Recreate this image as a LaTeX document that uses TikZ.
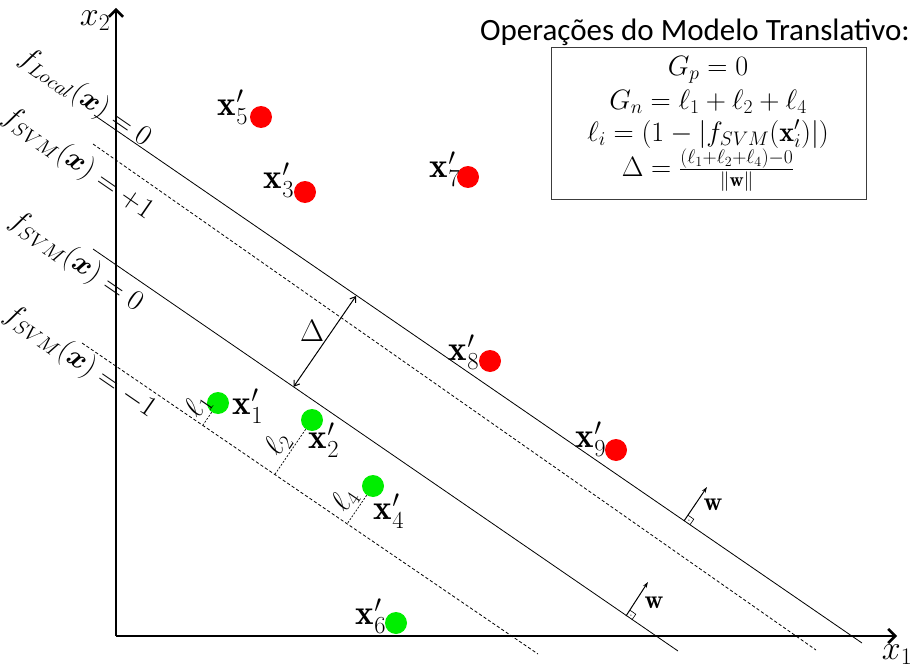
\documentclass[tikz,border=0pt]{standalone}
\usepackage{fontspec}
\usepackage{amsmath,bm}
\usepackage{fix-cm}
\usetikzlibrary{arrows.meta,calc}
\newfontfamily\carlito{Carlito}
\definecolor{ptred}{RGB}{255,0,0}
\definecolor{ptgreen}{RGB}{0,238,0}
\definecolor{boxline}{RGB}{60,60,60}
\begin{document}
\begin{tikzpicture}[x=1pt,y=-1pt,
  axis/.style={line width=2.6pt,-{Straight Barb[length=7pt,width=14pt]}},
  hyp/.style={line width=0.8pt},
  margin/.style={line width=0.8pt,dash pattern=on 3.2pt off 2.2pt},
  lossline/.style={line width=0.7pt,dash pattern=on 2pt off 1.5pt},
  vecarrow/.style={line width=1pt,-{Stealth[length=6pt,width=4pt]}},
  deltaarrow/.style={line width=1pt,{Straight Barb[length=5pt,width=7pt]}-{Straight Barb[length=5pt,width=7pt]}},
  redpt/.style={circle,fill=ptred,inner sep=0pt,minimum size=22pt},
  greenpt/.style={circle,fill=ptgreen,inner sep=0pt,minimum size=22pt},
  ptlabel/.style={inner sep=0pt,font=\fontsize{35}{38}\selectfont},
  linelabel/.style={inner sep=0pt,rotate=-34.6,font=\fontsize{29}{32}\selectfont},
  loss/.style={inner sep=0pt,rotate=55.7,font=\fontsize{30}{34}\selectfont},
  eq/.style={inner sep=0pt,font=\fontsize{28}{32}\selectfont},
]
\useasboundingbox (0,0) rectangle (914,669);

% axes
\coordinate (O) at (116,636);
\coordinate (X1end) at (897,636);
\coordinate (X2end) at (116,8);
\draw[axis] (O) -- (X1end);
\draw[axis] (O) -- (X2end);
\node[inner sep=0pt,font=\fontsize{34}{38}\selectfont] (lx2) at (95,21) {$x_2$};
\node[inner sep=0pt,font=\fontsize{34}{38}\selectfont] (lx1) at (897,655) {$x_1$};

% hyperplanes
\coordinate (LocA) at (94,115);   \coordinate (LocB) at (862,643);
\coordinate (PosA) at (93,144);   \coordinate (PosB) at (816,650);
\coordinate (ZerA) at (93,249);   \coordinate (ZerB) at (678,651);
\coordinate (NegA) at (82,343);   \coordinate (NegB) at (538,654);
\draw[hyp] (LocA) -- (LocB);
\draw[margin] (PosA) -- (PosB);
\draw[hyp] (ZerA) -- (ZerB);
\draw[margin] (NegA) -- (NegB);

% line labels
\node[linelabel] (tLoc) at (85,98) {$f_{Local}(\bm{x}) = 0$};
\node[linelabel] (tPos) at (78,164) {$f_{SVM}(\bm{x}) = +1$};
\node[linelabel] (tZer) at (76,262) {$f_{SVM}(\bm{x}) = 0$};
\node[linelabel] (tNeg) at (80,362) {$f_{SVM}(\bm{x}) = -1$};

% Delta arrow
\coordinate (D1) at (356,296);
\coordinate (D2) at ($(ZerA)!(D1)!(ZerB)$);
\draw[deltaarrow] (D1) -- (D2);
\node[inner sep=0pt,font=\fontsize{31}{34}\selectfont] (tDelta) at (312,331) {$\Delta$};

% w vectors
\coordinate (W1b) at (684,521);
\coordinate (W1t) at (707,487);
\draw[vecarrow] (W1b) -- (W1t);
\draw[line width=0.6pt] (W1b) ++(5.8,4.0) -- ++(4.0,-5.8) -- ++(-5.8,-4.0);
\fill (W1b) ++(4.9,-0.9) circle (0.6pt);
\node[inner sep=0pt,font=\fontsize{26}{28}\selectfont] (tw1) at (713,505) {$\mathbf{w}$};

\coordinate (W2b) at (626,616);
\coordinate (W2t) at (648,582);
\draw[vecarrow] (W2b) -- (W2t);
\draw[line width=0.6pt] (W2b) ++(5.8,4.0) -- ++(4.0,-5.8) -- ++(-5.8,-4.0);
\fill (W2b) ++(4.9,-0.9) circle (0.6pt);
\node[inner sep=0pt,font=\fontsize{26}{28}\selectfont] (tw2) at (654,603) {$\mathbf{w}$};

% points
\node[redpt] (p5) at (261,117) {};
\node[redpt] (p3) at (305,192) {};
\node[redpt] (p7) at (468,177) {};
\node[redpt] (p8) at (490,361) {};
\node[redpt] (p9) at (616,450) {};
\node[greenpt] (p1) at (218,403) {};
\node[greenpt] (p2) at (312,420) {};
\node[greenpt] (p4) at (373,486) {};
\node[greenpt] (p6) at (396,623) {};

\node[ptlabel] (l5) at (233,107) {$\mathbf{x}'_5$};
\node[ptlabel] (l3) at (279,180) {$\mathbf{x}'_3$};
\node[ptlabel] (l7) at (445,169) {$\mathbf{x}'_7$};
\node[ptlabel] (l8) at (464,352) {$\mathbf{x}'_8$};
\node[ptlabel] (l9) at (591,439) {$\mathbf{x}'_9$};
\node[ptlabel] (l1) at (248,406) {$\mathbf{x}'_1$};
\node[ptlabel] (l2) at (324,440) {$\mathbf{x}'_2$};
\node[ptlabel] (l4) at (389,511) {$\mathbf{x}'_4$};
\node[ptlabel] (l6) at (371,616) {$\mathbf{x}'_6$};

% losses
\coordinate (f1) at ($(NegA)!(p1)!(NegB)$);
\coordinate (f2) at ($(NegA)!(p2)!(NegB)$);
\coordinate (f4) at ($(NegA)!(p4)!(NegB)$);
\draw[lossline] (p1) -- (f1);
\draw[lossline] (p2) -- (f2);
\draw[lossline] (p4) -- (f4);
\node[loss] (tl1) at (198,406) {$\ell_1$};
\node[loss] (tl2) at (278,444) {$\ell_2$};
\node[loss] (tl4) at (345,500) {$\ell_4$};

% title and box
\node[inner sep=0pt,font=\carlito\fontsize{31}{36}\selectfont] (title) at (695,32) {Operações do Modelo Translativo:};
\node[draw=boxline,line width=1pt,minimum width=315pt,minimum height=151pt,inner sep=0pt] (box) at (708.5,123.5) {};
\node[eq] (e1) at (708,70) {$G_p = 0$};
\node[eq] (e2) at (708,102) {$G_n = \ell_1 + \ell_2 + \ell_4$};
\node[eq] (e3) at (708,134) {$\ell_i = (1 - |f_{SVM}(\mathbf{x}'_i)|)$};
\node[eq] (e4) at (708,170) {$\Delta = \frac{(\ell_1+\ell_2+\ell_4)-0}{\|\mathbf{w}\|}$};
\end{tikzpicture}
\end{document}
